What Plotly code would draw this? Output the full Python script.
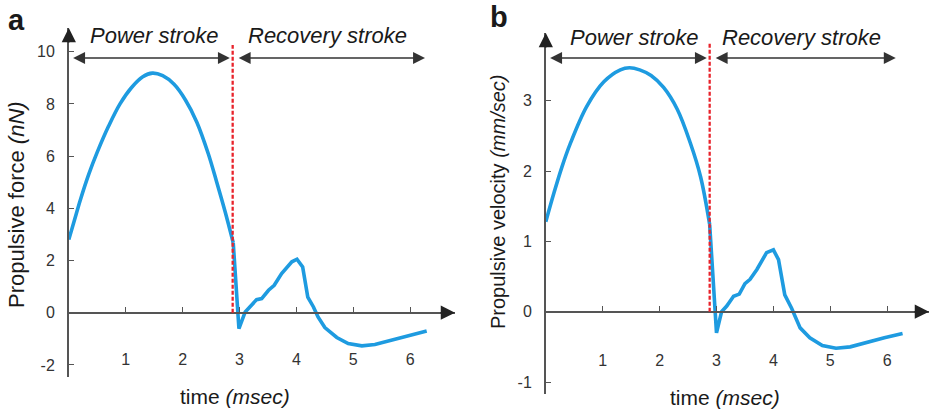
import plotly.graph_objects as go

# ---------------- data ----------------
# Panel a: propulsive force (nN) vs time (msec)
force_power_t = [0.0, 0.1, 0.2, 0.35, 0.5, 0.7, 0.9, 1.1, 1.3, 1.47, 1.65, 1.85, 2.05, 2.25, 2.45, 2.6, 2.75, 2.89]
force_power_v = [2.8, 3.55, 4.3, 5.3, 6.15, 7.15, 8.0, 8.62, 9.04, 9.18, 9.08, 8.75, 8.15, 7.3, 6.1, 5.0, 3.85, 2.68]
force_rec_t = [2.89, 2.99, 3.10, 3.18, 3.30, 3.39, 3.51, 3.61, 3.74, 3.92, 4.01, 4.11, 4.20, 4.30,
               4.38, 4.50, 4.71, 4.91, 5.15, 5.38, 5.67, 5.97, 6.29]
force_rec_v = [2.68, -0.61, 0.03, 0.22, 0.50, 0.54, 0.86, 1.05, 1.50, 1.95, 2.05, 1.75, 0.60, 0.22,
               -0.16, -0.57, -0.95, -1.18, -1.27, -1.22, -1.05, -0.86, -0.70]

# Panel b: propulsive velocity (mm/sec) vs time (msec)
vel_power_t = [0.0, 0.14, 0.28, 0.43, 0.72, 1.02, 1.31, 1.47, 1.65, 1.85, 2.07, 2.31, 2.54, 2.72, 2.88]
vel_power_v = [1.28, 1.68, 2.05, 2.39, 2.92, 3.27, 3.44, 3.47, 3.44, 3.36, 3.19, 2.88, 2.40, 1.92, 1.24]
vel_rec_t = [2.88, 3.00, 3.09, 3.18, 3.30, 3.40, 3.50, 3.59, 3.71, 3.88, 4.00, 4.09, 4.20, 4.32,
             4.47, 4.64, 4.86, 5.10, 5.35, 5.65, 5.95, 6.27]
vel_rec_v = [1.24, -0.30, 0.00, 0.08, 0.22, 0.25, 0.40, 0.46, 0.60, 0.84, 0.88, 0.74, 0.24, 0.05,
             -0.23, -0.37, -0.48, -0.52, -0.50, -0.43, -0.37, -0.31]

x_tickvals = [1, 2, 3, 4, 5, 6]
x_ticktext = ["1", "2", "3", "4", "5", "6"]
ya_tickvals = [-2, 0, 2, 4, 6, 8, 10]
ya_ticktext = ["-2", "0", "2", "4", "6", "8", "10"]
yb_tickvals = [-1, 0, 1, 2, 3]
yb_ticktext = ["-1", "0", "1", "2", "3"]

stroke_boundary = 2.88
power_span = [0.05, 2.83]
recovery_span_a = [2.96, 6.26]
recovery_span_b = [2.96, 6.15]

# ---------------- style ----------------
W, H = 932, 413
FONT = "Liberation Sans, Arial, Helvetica, sans-serif"
BLUE = "#1e9be0"
RED = "#e8232b"
AX = "#555555"
ARROW = "#222222"


def px(x):
    return x / W


def py(y):
    return 1 - y / H


fig = go.Figure()

fig.add_trace(go.Scatter(x=force_power_t, y=force_power_v, mode="lines",
                         line=dict(color=BLUE, width=3.6, shape="spline", smoothing=1.0),
                         xaxis="x", yaxis="y", hoverinfo="skip"))
fig.add_trace(go.Scatter(x=force_rec_t, y=force_rec_v, mode="lines",
                         line=dict(color=BLUE, width=3.6),
                         xaxis="x", yaxis="y", hoverinfo="skip"))
fig.add_trace(go.Scatter(x=vel_power_t, y=vel_power_v, mode="lines",
                         line=dict(color=BLUE, width=3.6, shape="spline", smoothing=1.0),
                         xaxis="x2", yaxis="y2", hoverinfo="skip"))
fig.add_trace(go.Scatter(x=vel_rec_t, y=vel_rec_v, mode="lines",
                         line=dict(color=BLUE, width=3.6),
                         xaxis="x2", yaxis="y2", hoverinfo="skip"))

# panel geometry (pixels)
a_x0, a_xscale, a_xtip = 68.8, 56.9, 455
a_y0, a_yscale, a_ybot, a_ytip = 312.7, 26.1, 377, 28
b_x0, b_xscale, b_xtip = 545.8, 56.9, 929
b_y0, b_yscale, b_ybot, b_ytip = 311.7, 70.3, 394, 33

a_xmax = (a_xtip - a_x0) / a_xscale
a_ymin = (a_y0 - a_ybot) / a_yscale
a_ymax = (a_y0 - a_ytip) / a_yscale
b_xmax = (b_xtip - b_x0) / b_xscale
b_ymin = (b_y0 - b_ybot) / b_yscale
b_ymax = (b_y0 - b_ytip) / b_yscale

tickfont = dict(family=FONT, size=16, color="#333333")

common_x = dict(showgrid=False, zeroline=False, showline=True, linecolor=AX, linewidth=1.6,
                ticks="inside", ticklen=5, tickwidth=1.3, tickcolor=AX, tickfont=tickfont,
                tickmode="array", tickvals=x_tickvals, ticktext=x_ticktext,
                fixedrange=True)
common_y = dict(showgrid=False, zeroline=False, showline=True, linecolor=AX, linewidth=1.6,
                ticks="inside", ticklen=5, tickwidth=1.3, tickcolor=AX, tickfont=tickfont,
                tickmode="array", fixedrange=True)

fig.update_layout(
    width=W, height=H,
    margin=dict(l=0, r=0, t=0, b=0),
    paper_bgcolor="white", plot_bgcolor="white",
    showlegend=False,
    xaxis=dict(common_x, domain=[px(a_x0), px(a_xtip)], range=[0, a_xmax],
               anchor="free", position=py(a_y0), ticklabelstandoff=32),
    yaxis=dict(common_y, domain=[py(a_ybot), py(a_ytip)], range=[a_ymin, a_ymax],
               anchor="x", tickvals=ya_tickvals, ticktext=ya_ticktext, ticklabelstandoff=9),
    xaxis2=dict(common_x, domain=[px(b_x0), px(b_xtip)], range=[0, b_xmax],
                anchor="free", position=py(b_y0), ticklabelstandoff=34),
    yaxis2=dict(common_y, domain=[py(b_ybot), py(b_ytip)], range=[b_ymin, b_ymax],
                anchor="x2", tickvals=yb_tickvals, ticktext=yb_ticktext, ticklabelstandoff=9),
)

shapes = []
annotations = []

# dashed stroke boundary
for xr, yr, top in (("x", "y", (a_y0 - 45) / a_yscale), ("x2", "y2", (b_y0 - 42) / b_yscale)):
    shapes.append(dict(type="line", xref=xr, yref=yr, x0=stroke_boundary, x1=stroke_boundary,
                       y0=0, y1=top, line=dict(color=RED, width=2.3, dash="4px,2px"), layer="above"))
fig.update_layout(shapes=shapes)

# axis arrowheads
for xr, yr, xt, yt in (("x", "y", a_xmax, a_ymax), ("x2", "y2", b_xmax, b_ymax)):
    annotations.append(dict(xref=xr, yref=yr, x=xt, y=0, ax=-16, ay=0, text="", showarrow=True,
                            arrowhead=2, arrowsize=1.9, arrowwidth=1.5, arrowcolor=ARROW, standoff=0))
    annotations.append(dict(xref=xr, yref=yr, x=0, y=yt, ax=0, ay=16, text="", showarrow=True,
                            arrowhead=2, arrowsize=1.9, arrowwidth=1.5, arrowcolor=ARROW, standoff=0))

# phase double arrows
for xr, yr, ylev, rec in (("x", "y", (a_y0 - 58) / a_yscale, recovery_span_a),
                          ("x2", "y2", (b_y0 - 58) / b_yscale, recovery_span_b)):
    for span in (power_span, rec):
        annotations.append(dict(xref=xr, yref=yr, axref=xr, ayref=yr,
                                x=span[1], y=ylev, ax=span[0], ay=ylev, text="", showarrow=True,
                                arrowside="end+start", arrowhead=2, startarrowhead=2,
                                arrowsize=1.7, startarrowsize=1.7, arrowwidth=1.4,
                                arrowcolor="#333333", standoff=0, startstandoff=0))


def txt(x, y, s, size=22, angle=0, xanchor="center"):
    f = dict(family=FONT, size=size, color="#1a1a1a")
    annotations.append(dict(xref="paper", yref="paper", x=px(x), y=py(y), text=s, showarrow=False,
                            font=f, textangle=angle, xanchor=xanchor, yanchor="middle"))


txt(154, 35, "<i>Power stroke</i>")
txt(327.5, 35, "<i>Recovery stroke</i>")
txt(633.5, 37, "<i>Power stroke</i>")
txt(801.5, 37, "<i>Recovery stroke</i>")
txt(16, 20, "<b>a</b>", size=29)
txt(499, 17, "<b>b</b>", size=29)
txt(16, 205, "Propulsive force <i>(nN)</i>", size=22, angle=-90)
txt(498, 202, "Propulsive velocity <i>(mm/sec)</i>", size=20, angle=-90)
txt(235, 396, "time <i>(msec)</i>", size=21)
txt(725, 397, "time <i>(msec)</i>", size=21)

fig.update_layout(annotations=annotations)

fig.write_html("out.html")
